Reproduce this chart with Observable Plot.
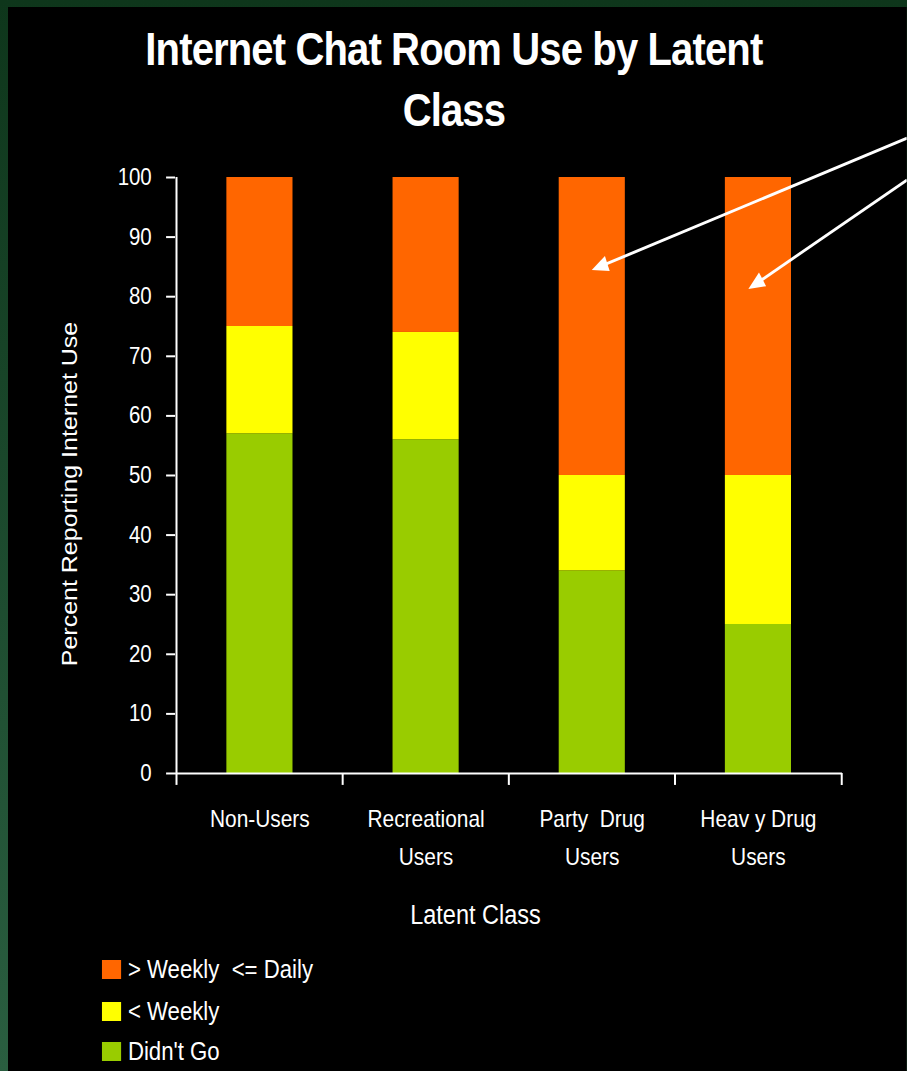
<!DOCTYPE html>
<html>
<head>
<meta charset="utf-8">
<script src="https://cdn.jsdelivr.net/npm/d3@7"></script>
<script src="https://cdn.jsdelivr.net/npm/@observablehq/plot@0.6"></script>
<style>
  html, body { margin: 0; padding: 0; }
  body {
    width: 907px; height: 1071px; overflow: hidden; position: relative;
    background: linear-gradient(#0e361b, #2a5e40);
    font-family: "Liberation Sans", Arial, sans-serif;
  }
  /* slide area: laid out wide, then squeezed horizontally like the original slide */
  #slide {
    position: absolute; left: 8px; top: 7px;
    width: 1033.33px; height: 1064px;
    background: #000; color: #fff;
    transform: scaleX(0.87); transform-origin: 0 0;
    overflow: hidden;
  }
  #title {
    position: absolute; left: 0; top: 12px; width: 1025px; z-index: 2;
    text-align: center; font-weight: bold; font-size: 46px;
    line-height: 61px; letter-spacing: -1px;
  }
  #chart { position: absolute; left: 0; top: 113px; z-index: 1; }
  .legend-row {
    position: absolute; left: 108px; height: 40px;
    display: flex; align-items: center;
    font-size: 25.5px; white-space: pre; color: #fff;
  }
  .legend-row .sw { width: 21.8px; height: 19px; margin-right: 8px; }
</style>
</head>
<body>
<div id="slide">
  <div id="chart"></div>
  <div id="title">Internet Chat Room Use by Latent<br>Class</div>
  <div id="legend"></div>
</div>
<script>
// Latent classes and their two-line tick labels
const categories = ["Non-Users", "Recreational Users", "Party Drug Users", "Heavy Drug Users"];
const tickLabels = ["Non-Users", "Recreational\nUsers", "Party\u00A0 Drug\nUsers", "Heav y Drug\nUsers"];

// Stacked series, bottom to top
const seriesNames = ["Didn't Go", "< Weekly", "> Weekly  <= Daily"];
const seriesColors = ["#99CC00", "#FFFF00", "#FF6600"];

// Percent reporting each level of chat room use
const didntGo       = [57, 56, 34, 25];
const underWeekly   = [18, 18, 16, 25];
const weeklyToDaily = [25, 26, 50, 50];

const yTicks = [0, 10, 20, 30, 40, 50, 60, 70, 80, 90, 100];

// Call-out arrows pointing at the high-use segments
const arrowTargets    = ["Party Drug Users", "Heavy Drug Users"];
const arrowTipValues  = [84.4, 81.2];
const arrowTailValues = [106.5, 99.5];

const seriesValues = [didntGo, underWeekly, weeklyToDaily];
const rows = categories.flatMap((c, i) =>
  seriesNames.map((s, k) => ({category: c, series: s, value: seriesValues[k][i]}))
);

const W = 899 / 0.87, H = 820;
const mL = 192, mR = W - 958.6, mT = 57, mB = 167;
// inner 0.6 + 2 × outer 0.3 keeps each class exactly one step wide
const step = (W - mL - mR) / categories.length;
const white = "#ffffff";

const plot = Plot.plot({
  width: W, height: H,
  marginLeft: mL, marginRight: mR, marginTop: mT, marginBottom: mB,
  style: {
    background: "transparent", color: "white", overflow: "visible",
    fontFamily: "'Liberation Sans', Arial, sans-serif"
  },
  x: {domain: categories, paddingInner: 0.6, paddingOuter: 0.3, axis: null},
  y: {domain: [0, 100], axis: null},
  color: {domain: seriesNames, range: seriesColors},
  marks: [
    Plot.barY(rows, {x: "category", y: "value", fill: "series", order: seriesNames}),
    // category axis baseline and the boundary ticks between classes
    Plot.ruleY([0], {stroke: white, strokeWidth: 2}),
    Plot.ruleX(categories, {dx: -step / 2, y1: 0, y2: -2, stroke: white, strokeWidth: 2.3}),
    Plot.ruleX(categories.slice(-1), {dx: step / 2, y1: 0, y2: -2, stroke: white, strokeWidth: 2.3}),
    // value axis line
    Plot.ruleX(categories.slice(0, 1), {dx: -step / 2, y1: 0, y2: 100, stroke: white, strokeWidth: 2.3}),
    Plot.axisY({
      ticks: yTicks, tickSize: 10.3, tickPadding: 17, fontSize: 23.5,
      strokeWidth: 2, label: null, tickFormat: d => String(d)
    }),
    Plot.axisX({
      tickSize: 0, tickPadding: 26, fontSize: 24, lineHeight: 1.6, label: null,
      tickFormat: d => tickLabels[categories.indexOf(d)]
    }),
    Plot.text(["Percent Reporting Internet Use"], {
      text: d => d, frameAnchor: "left", textAnchor: "middle", lineAnchor: "middle",
      rotate: -90, dx: -121.3, dy: 18.5, fontSize: 25, fill: white
    }),
    Plot.text(["Latent Class"], {
      text: d => d, frameAnchor: "bottom", textAnchor: "middle", lineAnchor: "middle",
      dx: -38.5, dy: 141.5, fontSize: 27, fill: white
    })
  ]
});

// arrows: tails run off the right edge, tips land inside the orange segments
const xs = plot.scale("x"), ys = plot.scale("y");
const tipShift = [0, -11];
const ga = d3.select(plot).append("g").attr("fill", white).attr("stroke", white);
arrowTargets.forEach((c, i) => {
  const tx = xs.apply(c) + xs.bandwidth / 2 + tipShift[i];
  const ty = ys.apply(arrowTipValues[i]);
  const sx = W, sy = ys.apply(arrowTailValues[i]);
  const len = Math.hypot(tx - sx, ty - sy);
  const ux = (tx - sx) / len, uy = (ty - sy) / len;
  const headLen = 19, headHalf = 8;
  const bx = tx - ux * headLen, by = ty - uy * headLen;
  ga.append("line")
    .attr("x1", sx).attr("y1", sy)
    .attr("x2", bx + ux * 2).attr("y2", by + uy * 2)
    .attr("stroke-width", 3);
  ga.append("path")
    .attr("stroke", "none")
    .attr("d", `M${tx},${ty}L${bx - uy * headHalf},${by + ux * headHalf}L${bx + uy * headHalf},${by - ux * headHalf}Z`);
});

document.getElementById("chart").append(plot);

// legend, top row is the top segment
const legend = document.getElementById("legend");
const legendCenters = [962.5, 1004.5, 1044.5];
seriesNames.slice().reverse().forEach((name, j) => {
  const row = document.createElement("div");
  row.className = "legend-row";
  row.style.top = (legendCenters[j] - 20) + "px";
  const sw = document.createElement("span");
  sw.className = "sw";
  sw.style.background = seriesColors[seriesNames.indexOf(name)];
  const label = document.createElement("span");
  label.textContent = name;
  row.append(sw, label);
  legend.append(row);
});
</script>
</body>
</html>
